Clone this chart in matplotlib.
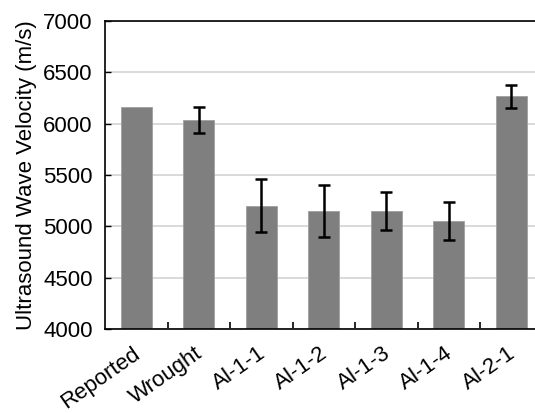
import matplotlib.pyplot as plt
import matplotlib.transforms as mtransforms
import numpy as np

plt.rcParams['font.family'] = ['Liberation Sans', 'DejaVu Sans']

samples = ['Reported', 'Wrought', 'Al-1-1', 'Al-1-2', 'Al-1-3', 'Al-1-4', 'Al-2-1']
velocity = [6160, 6035, 5200, 5150, 5152, 5050, 6265]
velocity_err = [0, 125, 260, 250, 187, 185, 115]

fig = plt.figure(figsize=(5.35, 4.13), dpi=100)
ax = fig.add_axes([105 / 535, 1 - 329 / 413, 437.5 / 535, 308 / 413])

x = np.arange(len(samples))
yerr = [e if e > 0 else np.nan for e in velocity_err]
ax.bar(x, velocity, width=0.5, color='#7f7f7f', edgecolor='#a0a0a0', linewidth=0.6, zorder=2)
ax.errorbar(x, velocity, yerr=yerr, fmt='none', ecolor='black', elinewidth=1.8,
            capsize=4, capthick=1.8, zorder=3)

ax.set_xlim(-0.5, len(samples) - 0.5)
ax.set_ylim(4000, 7000)
ax.set_yticks(np.arange(4000, 7001, 500))
ax.yaxis.grid(True, color='#d9d9d9', linewidth=1.4, zorder=0)
ax.set_axisbelow(True)

ax.set_xticks(x)
ax.set_xticklabels(samples, rotation=35, ha='right', rotation_mode='anchor')
ax.set_xticks(x[:-1] + 0.5, minor=True)
ax.tick_params(axis='x', which='major', length=0, pad=10, labelsize=16)
ax.tick_params(axis='x', which='minor', direction='in', length=5, width=1.2)
ax.tick_params(axis='y', direction='in', length=4, width=1.0, pad=9, labelsize=16)

# nudge the rotated labels a little to the left
shift = mtransforms.ScaledTranslation(-4 / 100, 0, fig.dpi_scale_trans)
for lab in ax.get_xticklabels():
    lab.set_transform(lab.get_transform() + shift)

for s in ax.spines.values():
    s.set_linewidth(1.2)

ax.set_ylabel('Ultrasound Wave Velocity (m/s)', fontsize=16, labelpad=4)

fig.savefig('out.png', dpi=100)
